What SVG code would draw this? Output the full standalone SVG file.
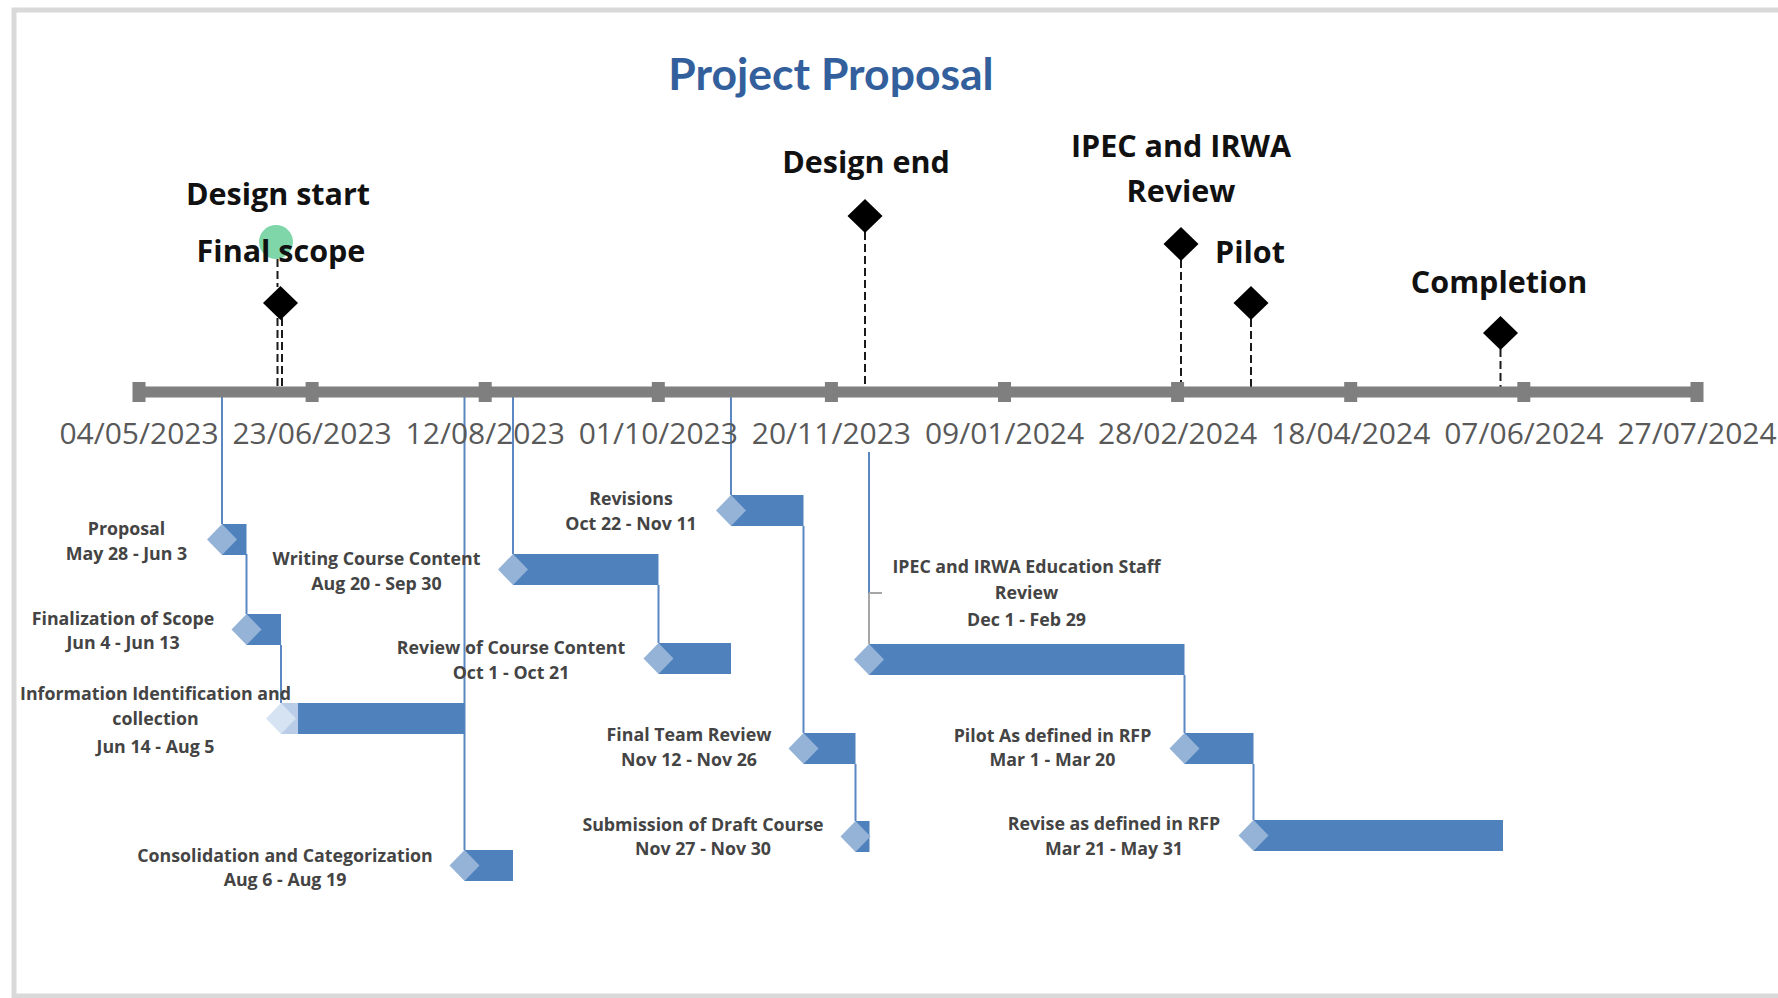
<svg xmlns="http://www.w3.org/2000/svg" width="1778" height="998" viewBox="0 0 1778 998">
<defs>
<style>
.title{font-family:Lato,"Open Sans",sans-serif;font-weight:700;font-size:44.5px;fill:#33609c;text-anchor:middle}
.ms{font-family:"Open Sans",Lato,sans-serif;font-weight:700;font-size:30.5px;fill:#111;text-anchor:middle}
.ax{font-family:"Open Sans",Lato,sans-serif;font-size:30px;fill:#595959;text-anchor:middle}
.tl{font-family:"Open Sans",Lato,sans-serif;font-weight:700;font-size:17.8px;fill:#444;text-anchor:middle}
.bar{fill:#4f81bd}
.dia{fill:#95b3d7}
.con{stroke:#5b87c2;stroke-width:2;fill:none}
.dash{stroke:#1a1a1a;stroke-width:2;stroke-dasharray:8 4;fill:none}
.md{fill:#000}
.tick{fill:#7f7f7f}
</style>
</defs>
<rect x="0" y="0" width="1778" height="998" fill="#fff"/>
<rect x="14" y="10" width="1800" height="986" fill="none" stroke="#d9d9d9" stroke-width="5"/>

<text class="title" x="831" y="90">Project Proposal</text>

<g id="connectors">
  <line class="dash" x1="277.5" y1="259" x2="277.5" y2="287"/>
  <line class="dash" x1="277.5" y1="318" x2="277.5" y2="392"/>
  <line class="dash" x1="282" y1="318" x2="282" y2="392"/>
  <line class="dash" x1="865" y1="232" x2="865" y2="392"/>
  <line class="dash" x1="1181" y1="260" x2="1181" y2="392"/>
  <line class="dash" x1="1251" y1="319" x2="1251" y2="392"/>
  <line class="dash" x1="1500.5" y1="349" x2="1500.5" y2="392"/>

  <line class="con" x1="222" y1="392" x2="222" y2="524"/>
  <line class="con" x1="246.5" y1="554" x2="246.5" y2="614"/>
  <line class="con" x1="281" y1="645" x2="281" y2="703"/>
  <line class="con" x1="464.5" y1="392" x2="464.5" y2="850"/>
  <line class="con" x1="513" y1="392" x2="513" y2="554"/>
  <line class="con" x1="658.5" y1="585" x2="658.5" y2="643"/>
  <line class="con" x1="731" y1="392" x2="731" y2="495"/>
  <line class="con" x1="803.5" y1="526" x2="803.5" y2="733"/>
  <line class="con" x1="855.5" y1="764" x2="855.5" y2="821"/>
  <line class="con" x1="869" y1="452" x2="869" y2="593"/>
  <line x1="869" y1="593" x2="869" y2="644" stroke="#a6a6a6" stroke-width="2"/>
  <line x1="869" y1="593" x2="882" y2="593" stroke="#a6a6a6" stroke-width="2"/>
  <line class="con" x1="1184.5" y1="675" x2="1184.5" y2="733"/>
  <line class="con" x1="1253.5" y1="764" x2="1253.5" y2="820"/>
</g>

<g id="axis">
  <rect x="139" y="386.5" width="1558" height="11" fill="#7f7f7f"/>
  <rect class="tick" x="132.5" y="382" width="13" height="20"/>
  <rect class="tick" x="305.6" y="382" width="13" height="20"/>
  <rect class="tick" x="478.7" y="382" width="13" height="20"/>
  <rect class="tick" x="651.8" y="382" width="13" height="20"/>
  <rect class="tick" x="824.9" y="382" width="13" height="20"/>
  <rect class="tick" x="998" y="382" width="13" height="20"/>
  <rect class="tick" x="1171.1" y="382" width="13" height="20"/>
  <rect class="tick" x="1344.2" y="382" width="13" height="20"/>
  <rect class="tick" x="1517.3" y="382" width="13" height="20"/>
  <rect class="tick" x="1690.5" y="382" width="13" height="20"/>
  <text class="ax" x="139" y="444">04/05/2023</text>
  <text class="ax" x="312.1" y="444">23/06/2023</text>
  <text class="ax" x="485.2" y="444">12/08/2023</text>
  <text class="ax" x="658.3" y="444">01/10/2023</text>
  <text class="ax" x="831.4" y="444">20/11/2023</text>
  <text class="ax" x="1004.5" y="444">09/01/2024</text>
  <text class="ax" x="1177.6" y="444">28/02/2024</text>
  <text class="ax" x="1350.7" y="444">18/04/2024</text>
  <text class="ax" x="1523.8" y="444">07/06/2024</text>
  <text class="ax" x="1697" y="444">27/07/2024</text>
</g>

<g id="ms-design-start">
  <circle cx="276" cy="242" r="17" fill="#7fd6a8"/>
  <text class="ms" x="278" y="205">Design start</text>
  <text class="ms" x="281" y="262">Final scope</text>
  <polygon class="md" points="280.5,286 298,303 280.5,320 263,303"/>
</g>
<g id="ms-design-end">
  <text class="ms" x="866" y="173">Design end</text>
  <polygon class="md" points="865,199 882.5,216 865,233 847.5,216"/>
</g>
<g id="ms-ipec">
  <text class="ms" x="1181" y="157">IPEC and IRWA</text>
  <text class="ms" x="1181" y="202">Review</text>
  <polygon class="md" points="1181,227 1198.5,244 1181,261 1163.5,244"/>
</g>
<g id="ms-pilot">
  <text class="ms" x="1250" y="263">Pilot</text>
  <polygon class="md" points="1251,286 1268.5,303 1251,320 1233.5,303"/>
</g>
<g id="ms-completion">
  <text class="ms" x="1499" y="293">Completion</text>
  <polygon class="md" points="1500.5,316 1518,333 1500.5,350 1483,333"/>
</g>

<g id="task-proposal">
  <rect class="bar" x="222" y="524" width="24.5" height="31"/>
  <polygon class="dia" points="207,539.5 222,524 237,539.5 222,555"/>
  <text class="tl" x="126.5" y="535">Proposal</text>
  <text class="tl" x="126.5" y="560">May 28 - Jun 3</text>
</g>
<g id="task-finalization">
  <rect class="bar" x="246.5" y="614" width="34.5" height="31"/>
  <polygon class="dia" points="231.5,629.5 246.5,614 261.5,629.5 246.5,645"/>
  <text class="tl" x="123" y="625">Finalization of Scope</text>
  <text class="tl" x="123" y="649">Jun 4 - Jun 13</text>
</g>
<g id="task-information">
  <rect class="bar" x="281" y="703" width="183.5" height="31"/>
  <rect x="281" y="703" width="17" height="31" fill="#b9cde8"/>
  <polygon points="266,718.5 281,703 296,718.5 281,734" fill="#d6e3f3"/>
  <text class="tl" x="155.5" y="700">Information Identification and</text>
  <text class="tl" x="155.5" y="725">collection</text>
  <text class="tl" x="155.5" y="753">Jun 14 - Aug 5</text>
</g>
<g id="task-consolidation">
  <rect class="bar" x="464.5" y="850" width="48.5" height="31"/>
  <polygon class="dia" points="449.5,865.5 464.5,850 479.5,865.5 464.5,881"/>
  <text class="tl" x="285" y="862">Consolidation and Categorization</text>
  <text class="tl" x="285" y="886">Aug 6 - Aug 19</text>
</g>
<g id="task-writing">
  <rect class="bar" x="513" y="554" width="145.5" height="31"/>
  <polygon class="dia" points="498,569.5 513,554 528,569.5 513,585"/>
  <text class="tl" x="376.5" y="565">Writing Course Content</text>
  <text class="tl" x="376.5" y="590">Aug 20 - Sep 30</text>
</g>
<g id="task-review">
  <rect class="bar" x="658.5" y="643" width="72.5" height="31"/>
  <polygon class="dia" points="643.5,658.5 658.5,643 673.5,658.5 658.5,674"/>
  <text class="tl" x="511" y="654">Review of Course Content</text>
  <text class="tl" x="511" y="679">Oct 1 - Oct 21</text>
</g>
<g id="task-revisions">
  <rect class="bar" x="731" y="495" width="72.5" height="31"/>
  <polygon class="dia" points="716,510.5 731,495 746,510.5 731,526"/>
  <text class="tl" x="631" y="505">Revisions</text>
  <text class="tl" x="631" y="530">Oct 22 - Nov 11</text>
</g>
<g id="task-final-team-review">
  <rect class="bar" x="803.5" y="733" width="52" height="31"/>
  <polygon class="dia" points="788.5,748.5 803.5,733 818.5,748.5 803.5,764"/>
  <text class="tl" x="689" y="741">Final Team Review</text>
  <text class="tl" x="689" y="766">Nov 12 - Nov 26</text>
</g>
<g id="task-submission">
  <rect class="bar" x="855.5" y="821" width="14" height="31"/>
  <polygon class="dia" points="840.5,836.5 855.5,821 870.5,836.5 855.5,852"/>
  <text class="tl" x="703" y="831">Submission of Draft Course</text>
  <text class="tl" x="703" y="855">Nov 27 - Nov 30</text>
</g>
<g id="task-ipec-review">
  <rect class="bar" x="869" y="644" width="315.5" height="31"/>
  <polygon class="dia" points="854,659.5 869,644 884,659.5 869,675"/>
  <text class="tl" x="1026.5" y="573">IPEC and IRWA Education Staff</text>
  <text class="tl" x="1026.5" y="599">Review</text>
  <text class="tl" x="1026.5" y="626">Dec 1 - Feb 29</text>
</g>
<g id="task-pilot">
  <rect class="bar" x="1184.5" y="733" width="69" height="31"/>
  <polygon class="dia" points="1169.5,748.5 1184.5,733 1199.5,748.5 1184.5,764"/>
  <text class="tl" x="1052.5" y="742">Pilot As defined in RFP</text>
  <text class="tl" x="1052.5" y="766">Mar 1 - Mar 20</text>
</g>
<g id="task-revise">
  <rect class="bar" x="1253.5" y="820" width="249.5" height="31"/>
  <polygon class="dia" points="1238.5,835.5 1253.5,820 1268.5,835.5 1253.5,851"/>
  <text class="tl" x="1114" y="830">Revise as defined in RFP</text>
  <text class="tl" x="1114" y="855">Mar 21 - May 31</text>
</g>
</svg>
